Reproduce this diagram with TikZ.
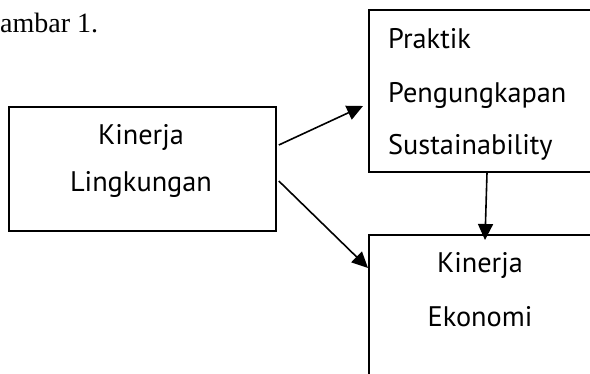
\documentclass[tikz,border=0pt]{standalone}
\usepackage{fontspec}
\setmainfont{PT Sans}
\newfontfamily\titlefont{Liberation Serif}
\usetikzlibrary{arrows.meta,calc}
\tikzset{
  box/.style={draw=black, line width=1.8pt, inner sep=0pt, anchor=north west},
  lbl/.style={font=\fontsize{28.3}{30}\selectfont, inner sep=0pt, text=black},
  arr/.style={line width=1.6pt, -{Triangle[length=16pt,width=15pt]}}
}
\begin{document}
\begin{tikzpicture}[x=1pt,y=-1pt]
\useasboundingbox (0,0) rectangle (590,373);
\clip (0,0) rectangle (590,373);
% title
\node[font=\titlefont\fontsize{28}{30}\selectfont, anchor=base west, inner sep=0pt] (title) at (0,32) {ambar 1.};
% boxes
\node[box, minimum width=267pt, minimum height=124pt] (L) at (8,106) {};
\node[box, minimum width=232pt, minimum height=162pt] (P) at (368,9) {};
\node[box, minimum width=224pt, minimum height=150pt] (E) at (368,234) {};
% texts
\node[lbl, anchor=base] (l1) at (141,144) {Kinerja};
\node[lbl, anchor=base] (l2) at (141,191) {Lingkungan};
\node[lbl, anchor=base west] (p1) at (388,48) {Praktik};
\node[lbl, anchor=base west] (p2) at (388,102) {Pengungkapan};
\node[lbl, anchor=base west] (p3) at (388,154) {Sustainability};
\node[lbl, anchor=base] (e1) at (480,272) {Kinerja};
\node[lbl, anchor=base] (e2) at (480,326) {Ekonomi};
% arrows
\coordinate (a1s) at ($(L.north east)+(2,39)$);
\coordinate (a1e) at ($(P.north west)+(-5,97)$);
\coordinate (a2s) at ($(L.north east)+(2,75)$);
\coordinate (a2e) at ($(E.north west)+(0,34)$);
\coordinate (a3s) at ($(P.south west)+(119,0)$);
\coordinate (a3e) at ($(E.north west)+(117,6)$);
\draw[arr] (a1s) -- (a1e);
\draw[arr] (a2s) -- (a2e);
\draw[arr] (a3s) -- (a3e);
\end{tikzpicture}
\end{document}
